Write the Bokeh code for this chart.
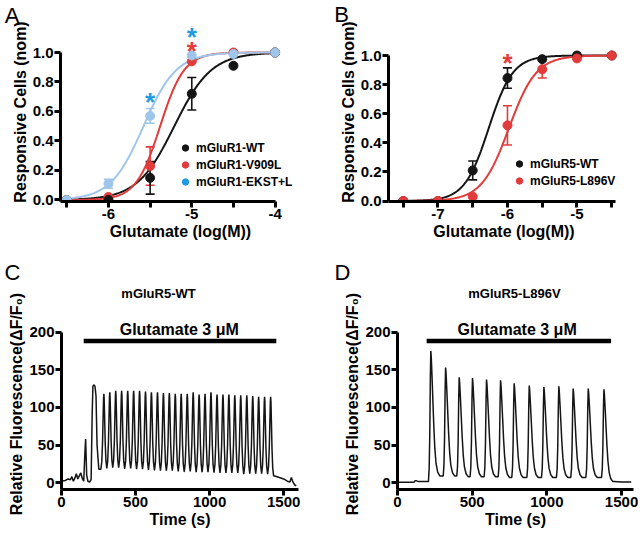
import numpy as np
from bokeh.plotting import figure
from bokeh.layouts import column, row
from bokeh.models import (FixedTicker, PrintfTickFormatter, Label, Legend, LegendItem,
                          Whisker, TeeHead, ColumnDataSource)
from bokeh.core.properties import value
from bokeh.embed import file_html
from bokeh.resources import INLINE

FONT = "Liberation Sans"
BLACK = "#151515"
RED = "#e23b3b"
LBLUE = "#9fc5ea"
BLUE = "#1f9be0"

# ---------------- Panel A data ----------------
a_conc = [-6.5, -6.0, -5.5, -5.0, -4.5, -4.0]
a_wt = [0.0, 0.0, 0.15, 0.72, 0.91, 1.0]
a_wt_err = [0.0, 0.0, 0.11, 0.11, 0.0, 0.0]
a_v909l = [0.0, 0.02, 0.23, 0.94, 1.0, 1.0]
a_v909l_err = [0.0, 0.0, 0.13, 0.0, 0.0, 0.0]
a_ekst = [0.0, 0.11, 0.57, 0.98, 0.99, 1.0]
a_ekst_err = [0.0, 0.03, 0.05, 0.0, 0.0, 0.0]
a_fit_ec50 = [-5.21, -5.38, -5.58]      # WT, V909L, EKST+L
a_fit_hill = [1.95, 3.0, 2.2]
a_names = ["mGluR1-WT", "mGluR1-V909L", "mGluR1-EKST+L"]
a_star_x = [-5.5, -5.0, -5.0]
a_star_y = [0.71, 1.15, 1.06]

# ---------------- Panel B data ----------------
b_conc = [-7.5, -7.0, -6.5, -6.0, -5.5, -5.0, -4.5]
b_wt = [0.0, 0.0, 0.21, 0.845, 0.975, 1.0, 1.0]
b_wt_err = [0.0, 0.0, 0.065, 0.07, 0.0, 0.0, 0.0]
b_l896v = [0.0, 0.0, 0.03, 0.52, 0.905, 0.98, 1.0]
b_l896v_err = [0.0, 0.0, 0.0, 0.135, 0.06, 0.0, 0.0]
b_fit_ec50 = [-6.27, -5.98]
b_fit_hill = [2.5, 2.2]
b_names = ["mGluR5-WT", "mGluR5-L896V"]
b_star_x = [-6.0]
b_star_y = [1.0]

# ---------------- Panel C data (mGluR5-WT trace) ----------------
c_pre_t = [0, 25, 45, 60, 70, 80, 90, 100, 110, 120, 130, 140, 150, 158, 163, 170, 178,
           190, 200, 207, 212, 218, 226, 233, 240, 252]
c_pre_v = [2, 3, 5, 4, 8, 2, 6, 12, 5, 9, 13, 6, 2, 40, 58, 10, 2,
           1, 4, 90, 128, 130, 128, 115, 50, 18]
c_peak_t = [286, 326, 366, 406, 447, 487, 527, 567, 607, 648, 688, 728, 768, 808, 849,
            889, 929, 969, 1009, 1050, 1090, 1130, 1170, 1210, 1251, 1291, 1331, 1371, 1412]
c_peak_v = [118, 120, 122, 122, 122, 122, 122, 121, 120, 120, 119, 119, 118, 118, 118,
            120, 117, 118, 120, 117, 117, 117, 116, 116, 116, 115, 114, 114, 114]
c_trough_v = [19, 20, 20, 19, 19, 18, 18, 17, 17, 16, 16, 16, 15, 15, 15, 14, 14, 14,
              14, 13, 13, 13, 13, 12, 12, 12, 12, 12]
c_post_t = [1440, 1470, 1500, 1525, 1542, 1552, 1562, 1575, 1585]
c_post_v = [9, 7, 5, 2, 1, 7, 1, -3, -4]
c_stim = [150, 1450]

# ---------------- Panel D data (mGluR5-L896V trace) ----------------
d_pre_t = [0, 110, 118, 128, 140, 207]
d_pre_v = [0.5, 0.5, 2.5, 2.5, 1.5, 1.5]
d_peak_t = [223, 322, 413, 502, 596, 690, 781, 882, 980, 1080, 1176, 1277, 1382]
d_peak_v = [175, 153, 140, 139, 137, 136, 132, 129, 127, 128, 125, 125, 124]
d_trough_v = [9, 9, 8, 8, 8, 7, 7, 7, 7, 7, 7, 7]
d_post_t = [1450, 1500, 1565]
d_post_v = [1.5, 1.0, 1.0]
d_stim = [195, 1430]

# spike waveform styles: (time offset from peak in s, fraction of amplitude)
C_RISE = [(-20, 0.0), (-14, 0.1), (-9, 0.35), (-5, 0.7), (-2, 0.94), (0, 1.0)]
C_DECAY = [(2, 0.94), (5, 0.7), (9, 0.35), (14, 0.1), (20, 0.0)]
D_RISE = [(-16, 0.0), (-11, 0.1), (-7, 0.35), (-3, 0.8), (0, 1.0)]
D_DECAY = [(3, 0.95), (8, 0.8), (14, 0.6), (20, 0.4), (27, 0.22), (35, 0.1), (46, 0.03), (60, 0.0)]


def hill(x, ec50, n):
    return 1.0 / (1.0 + 10 ** ((ec50 - x) * n))


def spike_train(pre_t, pre_v, pk_t, pk_v, tr_v, post_t, post_v, rise, decay):
    t = list(pre_t)
    v = list(pre_v)
    bases = [pre_v[-1]] + list(tr_v) + [post_v[0]]
    for i, (pt, pv) in enumerate(zip(pk_t, pk_v)):
        b0, b1 = bases[i], bases[i + 1]
        for dt, f in rise:
            t.append(pt + dt)
            v.append(b0 + f * (pv - b0))
        for dt, f in decay:
            t.append(pt + dt)
            v.append(b1 + f * (pv - b1))
    t += list(post_t)
    v += list(post_v)
    return t, v


def style(p):
    p.outline_line_color = None
    p.grid.visible = False
    p.background_fill_color = "white"
    for ax in (p.xaxis[0], p.yaxis[0]):
        ax.axis_line_width = 3
        ax.axis_line_color = "black"
        ax.major_tick_line_width = 3
        ax.major_tick_line_color = "black"
        ax.major_tick_out = 6
        ax.major_tick_in = 0
        ax.minor_tick_line_width = 3
        ax.minor_tick_line_color = "black"
        ax.minor_tick_out = 6
        ax.minor_tick_in = 0
        ax.major_label_text_font = FONT
        ax.major_label_text_font_style = "bold"
        ax.major_label_text_font_size = "15px"
        ax.major_label_text_color = "black"
        ax.major_label_standoff = 1
        ax.axis_label_text_font = FONT
        ax.axis_label_text_font_style = "bold"
        ax.axis_label_text_font_size = "16px"
        ax.axis_label_text_color = "black"
        ax.axis_label_standoff = 1


def add_err(p, x, y, e, color):
    xs = [a for a, b in zip(x, e) if b > 0]
    lo = [c - b for c, b in zip(y, e) if b > 0]
    hi = [c + b for c, b in zip(y, e) if b > 0]
    src = ColumnDataSource(dict(x=xs, lower=lo, upper=hi))
    w = Whisker(source=src, base="x", lower="lower", upper="upper",
                line_color=color, line_width=1.6,
                upper_head=TeeHead(size=9, line_color=color, line_width=1.6),
                lower_head=TeeHead(size=9, line_color=color, line_width=1.6))
    p.add_layout(w)


def add_legend(p, names, colors, loc):
    items = []
    for n, c in zip(names, colors):
        r = p.scatter(x=[np.nan], y=[np.nan], size=7, fill_color=c, line_color=c)
        items.append(LegendItem(label=n, renderers=[r]))
    lg = Legend(items=items, location=loc, glyph_width=16, glyph_height=17, label_height=17,
                label_standoff=3, spacing=0, padding=0, margin=0, border_line_color=None,
                background_fill_alpha=0, label_text_font=FONT, label_text_font_style="bold",
                label_text_font_size="12px", label_text_color="black")
    p.add_layout(lg)


def side_text(p, x, y, t, side, size, style_="normal"):
    p.add_layout(Label(x=x, y=y, text=t, text_font=FONT, text_font_size=size,
                       text_font_style=style_, text_align="center", text_baseline="middle",
                       text_color="black"), side)


# ======================= Panel A =======================
pA = figure(width=320, height=258, x_range=(-6.576, -3.695), y_range=(-0.0102, 1.2034),
            min_border_left=60, min_border_right=20, min_border_top=22, min_border_bottom=57,
            toolbar_location=None, output_backend="svg")
style(pA)
pA.xaxis.bounds = (-6.576, -4.0)
pA.yaxis.bounds = (-0.0102, 1.0)
pA.xaxis.ticker = FixedTicker(ticks=[-6, -5, -4], minor_ticks=[-6.5, -5.5, -4.5])
pA.xaxis.formatter = PrintfTickFormatter(format="%d")
pA.yaxis.ticker = FixedTicker(ticks=[0, 0.2, 0.4, 0.6, 0.8, 1.0])
pA.yaxis.formatter = PrintfTickFormatter(format="%.1f")
pA.xaxis.axis_label = "Glutamate (log(M))"
pA.yaxis.axis_label = "Responsive Cells (nom)"

xa = np.linspace(-6.5, -4.0, 300)
a_colors = [BLACK, RED, LBLUE]
for ec, n, c in zip(a_fit_ec50, a_fit_hill, a_colors):
    pA.line(xa, hill(xa, ec, n), line_color=c, line_width=2)
add_err(pA, a_conc, a_v909l, a_v909l_err, RED)
add_err(pA, a_conc, a_wt, a_wt_err, BLACK)
add_err(pA, a_conc, a_ekst, a_ekst_err, LBLUE)
pA.scatter(a_conc, a_v909l, size=9, fill_color=RED, line_color=RED)
pA.scatter(a_conc, a_wt, size=9, fill_color=BLACK, line_color=BLACK)
pA.scatter(a_conc, a_ekst, size=9, fill_color=LBLUE, line_color=LBLUE)
pA.text(x=a_star_x, y=[v - 7 / 147.5 for v in a_star_y], text=["*"] * 3,
        text_color=[BLUE, BLUE, RED], text_font=value(FONT), text_font_style="bold",
        text_font_size="26px", text_align="center", text_baseline="middle")
add_legend(pA, a_names, [BLACK, RED, BLUE], (117, 11))
side_text(pA, -7.158, 1.254, "A", "right", "22px")

# ======================= Panel B =======================
pB = figure(width=318, height=258, x_range=(-7.712, -4.388), y_range=(-0.0034, 1.227),
            min_border_left=68, min_border_right=19, min_border_top=22, min_border_bottom=57,
            toolbar_location=None, output_backend="svg")
style(pB)
pB.xaxis.bounds = (-7.712, -4.45)
pB.yaxis.bounds = (-0.0034, 1.0)
pB.xaxis.ticker = FixedTicker(ticks=[-7, -6, -5], minor_ticks=[-7.5, -6.5, -5.5, -4.5])
pB.xaxis.formatter = PrintfTickFormatter(format="%d")
pB.yaxis.ticker = FixedTicker(ticks=[0, 0.2, 0.4, 0.6, 0.8, 1.0])
pB.yaxis.formatter = PrintfTickFormatter(format="%.1f")
pB.xaxis.axis_label = "Glutamate (log(M))"
pB.yaxis.axis_label = "Responsive Cells (nom)"

xb = np.linspace(-7.5, -4.5, 300)
for ec, n, c in zip(b_fit_ec50, b_fit_hill, [BLACK, RED]):
    pB.line(xb, hill(xb, ec, n), line_color=c, line_width=2)
add_err(pB, b_conc, b_wt, b_wt_err, BLACK)
add_err(pB, b_conc, b_l896v, b_l896v_err, RED)
pB.scatter(b_conc, b_wt, size=9, fill_color=BLACK, line_color=BLACK)
pB.scatter(b_conc, b_l896v, size=9, fill_color=RED, line_color=RED)
pB.text(x=b_star_x, y=[v - 7 / 145.5 for v in b_star_y], text=["*"],
        text_color=RED, text_font=value(FONT), text_font_style="bold",
        text_font_size="26px", text_align="center", text_baseline="middle")
add_legend(pB, b_names, [BLACK, RED], (123, 12))
side_text(pB, -8.388, 1.279, "B", "left", "22px")

# ======================= Panel C =======================
pC = figure(width=320, height=278, x_range=(0, 1600), y_range=(-9, 218),
            min_border_left=61, min_border_right=22, min_border_top=60, min_border_bottom=47,
            toolbar_location=None, output_backend="svg")
style(pC)
pC.xaxis.bounds = (0, 1600)
pC.yaxis.bounds = (-9, 200)
pC.xaxis.ticker = FixedTicker(ticks=[0, 500, 1000, 1500])
pC.yaxis.ticker = FixedTicker(ticks=[0, 50, 100, 150, 200])
pC.xaxis.axis_label = "Time (s)"
pC.yaxis.axis_label = "Relative Fluorescence(ΔF/F₀)"
ct, cv = spike_train(c_pre_t, c_pre_v, c_peak_t, c_peak_v, c_trough_v, c_post_t, c_post_v,
                     C_RISE, C_DECAY)
pC.line(ct, cv, line_color=BLACK, line_width=1.5)
pC.segment(x0=[c_stim[0]], y0=[188], x1=[c_stim[1]], y1=[188], line_color="black", line_width=4.5)
pC.text(x=[795], y=[203], text=["Glutamate 3 μM"], text_font=value(FONT), text_font_style="bold",
        text_font_size="16px", text_align="center", text_baseline="middle", text_color="black")
side_text(pC, 655, 251, "mGluR5-WT", "above", "13px", "bold")
side_text(pC, -331, 279, "C", "right", "22px")

# ======================= Panel D =======================
pD = figure(width=318, height=278, x_range=(0, 1580), y_range=(-9, 218),
            min_border_left=77, min_border_right=5, min_border_top=60, min_border_bottom=47,
            toolbar_location=None, output_backend="svg")
style(pD)
pD.xaxis.bounds = (0, 1580)
pD.yaxis.bounds = (-9, 200)
pD.xaxis.ticker = FixedTicker(ticks=[0, 500, 1000, 1500])
pD.yaxis.ticker = FixedTicker(ticks=[0, 50, 100, 150, 200])
pD.xaxis.axis_label = "Time (s)"
pD.yaxis.axis_label = "Relative Fluorescence(ΔF/F₀)"
dt_, dv_ = spike_train(d_pre_t, d_pre_v, d_peak_t, d_peak_v, d_trough_v, d_post_t, d_post_v,
                       D_RISE, D_DECAY)
pD.line(dt_, dv_, line_color=BLACK, line_width=1.5)
pD.segment(x0=[d_stim[0]], y0=[188], x1=[d_stim[1]], y1=[188], line_color="black", line_width=4.5)
pD.text(x=[801], y=[203], text=["Glutamate 3 μM"], text_font=value(FONT), text_font_style="bold",
        text_font_size="16px", text_align="center", text_baseline="middle", text_color="black")
side_text(pD, 783, 251, "mGluR5-L896V", "above", "13px", "bold")
side_text(pD, -368, 279, "D", "left", "22px")

layout = column(row(pA, pB), row(pC, pD))
open("out.html", "w").write(file_html(layout, INLINE))
